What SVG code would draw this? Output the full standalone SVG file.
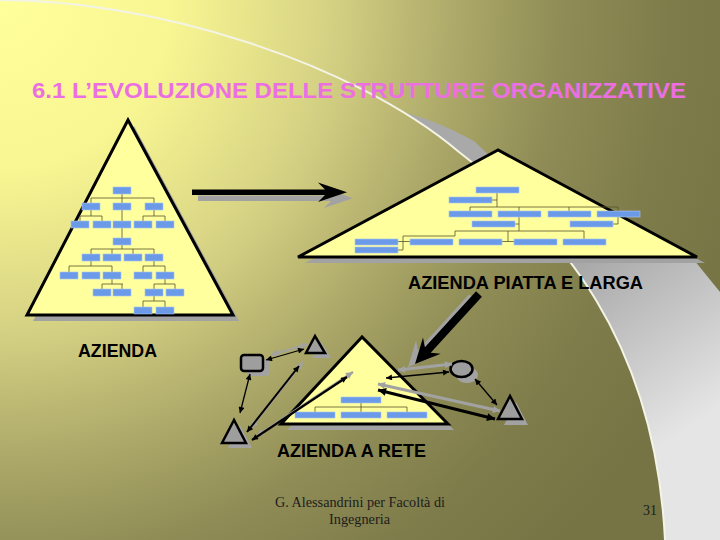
<svg xmlns="http://www.w3.org/2000/svg" width="720" height="540" viewBox="0 0 720 540">
<defs>
<radialGradient id="bg" gradientUnits="userSpaceOnUse" cx="0" cy="0" r="780">
<stop offset="0" stop-color="#ffff9c"/>
<stop offset="0.22" stop-color="#f8f692"/>
<stop offset="0.42" stop-color="#d6d284"/>
<stop offset="0.58" stop-color="#aeaa6a"/>
<stop offset="0.72" stop-color="#8f8c56"/>
<stop offset="0.86" stop-color="#7e7c4a"/>
<stop offset="1" stop-color="#767444"/>
</radialGradient>
<linearGradient id="rib" gradientUnits="userSpaceOnUse" x1="590" y1="260" x2="700" y2="420">
<stop offset="0" stop-color="#a9a9a9"/>
<stop offset="1" stop-color="#e5e5e5"/>
</linearGradient>
<marker id="ah" viewBox="0 0 10 10" refX="10" refY="5" markerUnits="userSpaceOnUse" markerWidth="7" markerHeight="6" orient="auto-start-reverse">
<path d="M0,0 L10,5 L0,10 Z" fill="#000"/>
</marker>
<marker id="ahL" viewBox="0 0 10 10" refX="10" refY="5" markerUnits="userSpaceOnUse" markerWidth="10" markerHeight="8" orient="auto-start-reverse">
<path d="M0,0 L10,5 L0,10 Z" fill="#000"/>
</marker>
<marker id="ahG" viewBox="0 0 10 10" refX="10" refY="5" markerUnits="userSpaceOnUse" markerWidth="8" markerHeight="7" orient="auto-start-reverse">
<path d="M0,0 L10,5 L0,10 Z" fill="#a2a2a2"/>
</marker>
<style>
.box{fill:#6b9ae9;stroke:#a9c4f2;stroke-width:0.6}
.ln{stroke:#55532a;stroke-width:0.8;fill:none}
.pyr{fill:#ffff9e;stroke:#000;stroke-width:3;stroke-linejoin:miter}
.shd{fill:#a2a2a2}
.node{fill:#9e9e9e;stroke:#000;stroke-width:2.5}
.lbl{font-family:"Liberation Sans",Arial,sans-serif;font-weight:bold;font-size:18px;fill:#000}
.foot{font-family:"Liberation Serif","Times New Roman",serif;font-size:14px;fill:#1c1c1c}
.ar{stroke:#000;fill:none;marker-start:url(#ah);marker-end:url(#ah)}
.arL{stroke:#000;fill:none;marker-start:url(#ahL);marker-end:url(#ahL)}
.arG{stroke:#a2a2a2;fill:none;marker-start:url(#ahG);marker-end:url(#ahG)}
</style>
</defs>

<g id="background">
<rect x="0" y="0" width="720" height="540" fill="url(#bg)"/>
<path d="M404.3,112.4 C424.25,124.57 442.65,138.2 459,152 C560,230 655,340 665,540 L720,540 L720,292 L690,255 L500,166 L474,141 C445,125 422,117 404.3,112.4 Z" fill="url(#rib)"/>
<path d="M0,0 C150,0 350,60 459,152 C560,230 655,340 665,540" fill="none" stroke="#f3f3e6" stroke-width="2"/>
</g>

<g id="title">
<text x="32" y="98" textLength="654" lengthAdjust="spacingAndGlyphs" font-family="'Liberation Sans',Arial,sans-serif" font-weight="bold" font-size="22" fill="#ec6fe2">6.1 L’EVOLUZIONE DELLE STRUTTURE ORGANIZZATIVE</text>
</g>

<g id="pyramid-azienda">
<polygon class="shd" points="134,126 33,321 239,321"/>
<polygon class="pyr" points="128,120 27,315 233,315"/>
<g class="ln">
<path d="M122,194 V249"/>
<path d="M91,198 H154 M91,198 V203 M154,198 V203"/>
<path d="M91,210 V216 M80,216 H102 M80,216 V221 M102,216 V221"/>
<path d="M154,210 V216 M143,216 H165 M143,216 V221 M165,216 V221"/>
<path d="M91,249 H154 M91,249 V254 M112,249 V254 M133,249 V254 M154,249 V254"/>
<path d="M91,261 V266 M69,266 H112 M69,266 V272 M112,266 V272"/>
<path d="M154,261 V266 M143,266 H165 M143,266 V272 M165,266 V272"/>
<path d="M112,279 V284 M102,284 H123 M102,284 V289 M122,284 V289"/>
<path d="M165,279 V284 M154,284 H175 M154,284 V289 M175,284 V289"/>
<path d="M154,296 V301 M143,301 H165 M143,301 V307 M165,301 V307"/>
</g>
<g>
<rect class="box" x="113" y="187" width="18" height="7"/>
<rect class="box" x="82" y="203" width="18" height="7"/>
<rect class="box" x="113" y="203" width="18" height="7"/>
<rect class="box" x="145" y="203" width="18" height="7"/>
<rect class="box" x="71" y="221" width="18" height="7"/>
<rect class="box" x="93" y="221" width="18" height="7"/>
<rect class="box" x="113" y="221" width="18" height="7"/>
<rect class="box" x="134" y="221" width="18" height="7"/>
<rect class="box" x="156" y="221" width="18" height="7"/>
<rect class="box" x="113" y="238" width="18" height="7"/>
<rect class="box" x="82" y="254" width="18" height="7"/>
<rect class="box" x="103" y="254" width="18" height="7"/>
<rect class="box" x="124" y="254" width="18" height="7"/>
<rect class="box" x="145" y="254" width="18" height="7"/>
<rect class="box" x="60" y="272" width="18" height="7"/>
<rect class="box" x="82" y="272" width="18" height="7"/>
<rect class="box" x="103" y="272" width="18" height="7"/>
<rect class="box" x="134" y="272" width="18" height="7"/>
<rect class="box" x="156" y="272" width="18" height="7"/>
<rect class="box" x="93" y="289" width="18" height="7"/>
<rect class="box" x="113" y="289" width="18" height="7"/>
<rect class="box" x="145" y="289" width="18" height="7"/>
<rect class="box" x="166" y="289" width="18" height="7"/>
<rect class="box" x="134" y="307" width="18" height="7"/>
<rect class="box" x="156" y="307" width="18" height="7"/>
</g>
<text class="lbl" x="78" y="357" textLength="79" lengthAdjust="spacingAndGlyphs">AZIENDA</text>
</g>

<g id="pyramid-piatta">
<polygon class="shd" points="505,156 305,263 705,263"/>
<polygon class="pyr" points="498,150 298,257 697,257"/>
<g class="ln">
<path d="M497,193 V207 M492,200 H497"/>
<path d="M470,207 H618 M470,207 V211 M519,207 V231 M569,207 V211 M618,207 V224"/>
<path d="M515,224 H519 M613,224 H618"/>
<path d="M455,231 H584 M455,231 V236 M403,236 H455 M403,236 V250 M398,241.5 H410 M398,250 H403"/>
<path d="M508,231 V241.5 M502,241.5 H514 M584,231 V239"/>
</g>
<g>
<rect class="box" x="476" y="187" width="43" height="6"/>
<rect class="box" x="449" y="197" width="43" height="6"/>
<rect class="box" x="449" y="211" width="43" height="6"/>
<rect class="box" x="498" y="211" width="43" height="6"/>
<rect class="box" x="548" y="211" width="43" height="6"/>
<rect class="box" x="597" y="211" width="43" height="6"/>
<rect class="box" x="472" y="221" width="43" height="6"/>
<rect class="box" x="570" y="221" width="43" height="6"/>
<rect class="box" x="355" y="239" width="43" height="6"/>
<rect class="box" x="410" y="239" width="43" height="6"/>
<rect class="box" x="459" y="239" width="43" height="6"/>
<rect class="box" x="514" y="239" width="43" height="6"/>
<rect class="box" x="563" y="239" width="43" height="6"/>
<rect class="box" x="355" y="247" width="43" height="6"/>
</g>
<text class="lbl" x="408" y="289" textLength="235" lengthAdjust="spacingAndGlyphs">AZIENDA PIATTA E LARGA</text>
</g>

<g id="pyramid-rete">
<polygon class="shd" points="368,343 287,430 454,430"/>
<polygon class="pyr" points="362,337 281,424 448,424"/>
<g class="ln">
<path d="M361,402 V412 M315,407 H407 M315,407 V412 M407,407 V412"/>
</g>
<rect class="box" x="341" y="397" width="40" height="6"/>
<rect class="box" x="295" y="412" width="40" height="6"/>
<rect class="box" x="341" y="412" width="40" height="6"/>
<rect class="box" x="387" y="412" width="40" height="6"/>
<text class="lbl" x="277" y="457" textLength="149" lengthAdjust="spacingAndGlyphs">AZIENDA A RETE</text>
</g>

<g id="node-square">
<rect class="shd" x="247" y="359" width="22" height="17" rx="3"/>
<rect class="node" x="241" y="355" width="22" height="16" rx="3"/>
</g>
<g id="node-tri-top">
<polygon class="shd" points="321,341 312,358 331,358"/>
<polygon class="node" points="315,336 306,353 325,353"/>
</g>
<g id="node-tri-left">
<polygon class="shd" points="240,425 228,448 252,448"/>
<polygon class="node" points="234,420 222,443 246,443"/>
</g>
<g id="node-ellipse">
<ellipse class="shd" cx="467" cy="375" rx="11" ry="8"/>
<ellipse class="node" cx="461.5" cy="369" rx="11" ry="8"/>
</g>
<g id="node-tri-right">
<polygon class="shd" points="516,402 504,425 528,425"/>
<polygon class="node" points="510,396 498,419 522,419"/>
</g>

<g id="connectors">
<polygon fill="#a2a2a2" points="198,195.5 331,195.5 324,188.5 353,198.3 324,208 331,201 198,201"/>
<polygon fill="#000" points="192,189.5 325,189.5 318,182.5 347,192.3 318,202 325,195 192,195"/>
<polygon fill="#a2a2a2" points="469.1,294.3 417.9,350.3 416,340.5 408,367 433.7,356.7 423.7,355.7 474.9,299.7"/>
<polygon fill="#000" points="476.1,291.3 424.9,347.3 423,337.5 415,364 440.7,353.7 430.7,352.7 481.9,296.7"/>
<line class="arG" x1="271" y1="355" x2="308" y2="344" stroke-width="2"/>
<line class="ar" x1="266" y1="360" x2="304" y2="349" stroke-width="1.3"/>
<line class="ar" x1="250" y1="374" x2="240" y2="413" stroke-width="1.3"/>
<line class="arG" x1="251" y1="428" x2="303" y2="362" stroke-width="2"/>
<line class="ar" x1="247" y1="432" x2="299" y2="366" stroke-width="2"/>
<line class="arG" x1="257" y1="436" x2="353" y2="372" stroke-width="2.5"/>
<line class="ar" x1="252" y1="440" x2="347" y2="377" stroke-width="2.2"/>
<line class="arG" x1="398" y1="370" x2="452" y2="364" stroke-width="3"/>
<line class="ar" x1="386" y1="378" x2="449" y2="372" stroke-width="1.6"/>
<line class="ar" x1="475" y1="379" x2="497" y2="405" stroke-width="1.3"/>
<line class="arG" x1="378" y1="384" x2="500" y2="411" stroke-width="3"/>
<line class="arL" x1="378" y1="390" x2="495" y2="419" stroke-width="3"/>
</g>

<g id="footer">
<text class="foot" x="275" y="507" textLength="170" lengthAdjust="spacingAndGlyphs">G. Alessandrini per Facoltà di</text>
<text class="foot" x="329" y="524" textLength="61" lengthAdjust="spacingAndGlyphs">Ingegneria</text>
<text class="foot" x="643" y="515">31</text>
</g>
</svg>
